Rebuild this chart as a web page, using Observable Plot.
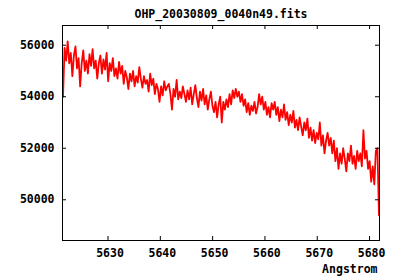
<!DOCTYPE html>
<html>
<head>
<meta charset="utf-8">
<script src="https://cdn.jsdelivr.net/npm/d3@7"></script>
<script src="https://cdn.jsdelivr.net/npm/@observablehq/plot@0.6"></script>
<style>
  html, body { margin: 0; padding: 0; background: #fff; }
  svg { display: block; }
</style>
</head>
<body>
<div id="chart"></div>
<script>
const title = "OHP_20030809_0040n49.fits";
const xLabel = "Angstrom";
const xTicks = [5630, 5640, 5650, 5660, 5670, 5680];
const yTicks = [50000, 52000, 54000, 56000];
const waveStart = 5621.4;
const waveEnd = 5681.8;
const flux = [
  54000, 55900, 55400, 56150, 55300, 55700, 54800, 55600, 55950, 55100, 55500, 54400, 55300, 55800, 55000, 55400, 54900, 55650, 55200, 55850, 55100, 55400, 54700, 55300, 55600, 54900, 55450, 55050, 55700, 54600, 55300, 55000, 55500, 54800,
  55100, 54700, 55350, 54900, 55200, 54500, 55000, 54750, 54300, 54900, 54600, 55000, 54400, 54800, 54550, 55150, 54700, 54350, 54800, 54500, 54650, 54200, 54900, 54450, 54700, 54100, 54500, 54300, 53800, 54400, 54050, 54600, 54250, 54400,
  54500, 54100, 53500, 54300, 54000, 54650, 53900, 54200, 53950, 54400, 54100, 53800, 54250, 53900, 54350, 53700, 54100, 54450, 53950, 53600, 54200, 53850, 54300, 53700, 54050, 53500, 53900, 54200, 53650, 53400, 53800, 53200, 53700, 54000,
  53000, 53800, 53500, 53900, 53600, 54100, 53700, 54250, 53950, 54300, 54000, 54200, 53800, 54100, 53650, 53900, 53400, 53750, 53300, 53650, 53450, 53800, 53350, 53600, 54100, 53700, 54000, 53500, 53800, 53300, 53600, 53200, 53750, 53500,
  53800, 53300, 53600, 53050, 53500, 53200, 53700, 53100, 53400, 52900, 53300, 53000, 53450, 52800, 53100, 52700, 53200, 52850, 52500, 53000, 52700, 53150, 52400, 52800, 52300, 52700, 52200, 52600, 52350, 53000, 52100, 52500, 51800, 52300,
  52600, 52100, 52400, 51800, 52300, 51500, 52000, 51200, 51800, 51400, 52000, 51600, 51100, 51800, 51500, 52100, 51400, 51700, 51200, 51900, 51500, 51800, 51300, 52700, 51600, 51900, 51200, 51500, 50700, 51300, 50600, 51900, 52000, 49400
];
const step = (waveEnd - waveStart) / (flux.length - 1);
const spectrum = flux.map((f, i) => ({wave: waveStart + i * step, flux: f}));

const font = "'DejaVu Sans Mono', monospace";
const W = 400, H = 280, mL = 62, mR = 21, mT = 25, mB = 40;
const fw = W - mL - mR, fh = H - mT - mB;

const chart = Plot.plot({
  width: W,
  height: H,
  marginLeft: mL,
  marginRight: mR,
  marginTop: mT,
  marginBottom: mB,
  style: {fontFamily: font, fontSize: "11.5px", fontWeight: "bold", background: "#fff", color: "#000", overflow: "visible"},
  x: {domain: [5621.3, 5681.9]},
  y: {domain: [48420, 56765]},
  marks: [
    Plot.line(spectrum, {x: "wave", y: "flux", stroke: "#ff0000", strokeWidth: 1.8}),
    Plot.frame({stroke: "#000", strokeWidth: 1}),
    Plot.tickX(xTicks, {x: d => d, insetTop: fh - 4, stroke: "#000"}),
    Plot.tickX(xTicks, {x: d => d, insetBottom: fh - 4, stroke: "#000"}),
    Plot.tickY(yTicks, {y: d => d, insetRight: fw - 4, stroke: "#000"}),
    Plot.tickY(yTicks, {y: d => d, insetLeft: fw - 4, stroke: "#000"}),
    Plot.axisX(xTicks, {tickSize: 0, tickPadding: 8, dx: 2, label: null, tickFormat: d => String(d), fontWeight: "bold"}),
    Plot.axisY(yTicks, {tickSize: 0, tickPadding: 8, label: null, tickFormat: d => String(d), fontWeight: "bold"}),
    Plot.text([title], {frameAnchor: "top", dy: -11, lineAnchor: "middle", fontWeight: "bold", fill: "#000"}),
    Plot.text([xLabel], {frameAnchor: "bottom-right", dy: 29, dx: -2, textAnchor: "end", lineAnchor: "middle", fontWeight: "bold", fill: "#000"})
  ]
});
document.getElementById("chart").appendChild(chart);
</script>
</body>
</html>
